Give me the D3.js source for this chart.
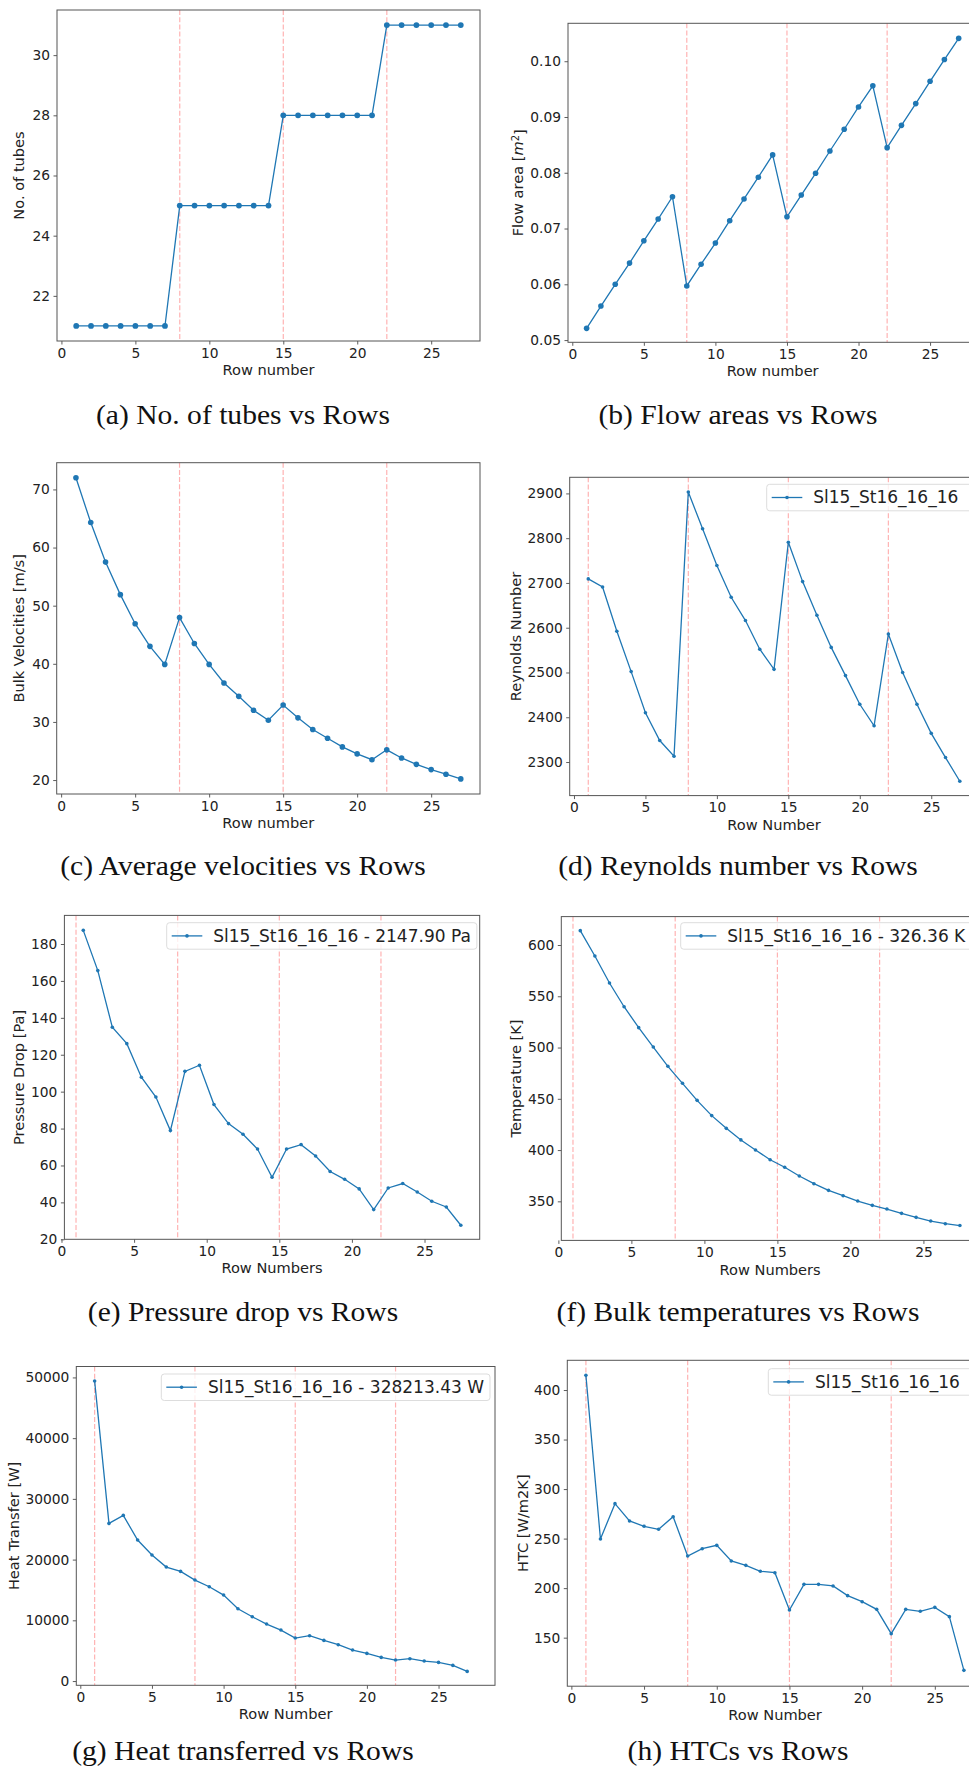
<!DOCTYPE html>
<html>
  <head>
    <meta charset="utf-8">
    <title>Row-wise results</title>
    <script src="https://d3js.org/d3.v7.min.js"></script>
    <style>
      body { margin: 0; background: #fff; }
      svg { display: block; }
    </style>
  </head>
  <body>
    <script>

      // row numbers (cell centres) and half-row positions used by the dp / temperature plots
      var rows = [1,2,3,4,5,6,7,8,9,10,11,12,13,14,15,16,17,18,19,20,21,22,23,24,25,26,27];
      var rowsMid = [1.5,2.5,3.5,4.5,5.5,6.5,7.5,8.5,9.5,10.5,11.5,12.5,13.5,14.5,15.5,16.5,17.5,18.5,19.5,20.5,21.5,22.5,23.5,24.5,25.5,26.5,27.5];

      var tubes = [21,21,21,21,21,21,21,25,25,25,25,25,25,25,28,28,28,28,28,28,28,31,31,31,31,31,31];
      var flowArea = [0.0521,0.0561,0.0600,0.0638,0.0678,0.0717,0.0757,0.0597,0.0636,0.0674,0.0714,0.0753,0.0792,0.0832,
                      0.0721,0.0760,0.0799,0.0839,0.0878,0.0918,0.0956,0.0845,0.0885,0.0924,0.0964,0.1003,0.1041];
      var velocity = [72.0,64.3,57.5,51.9,46.9,43.0,39.9,47.95,43.5,39.9,36.7,34.4,32.0,30.3,
                      32.9,30.7,28.7,27.2,25.7,24.5,23.5,25.2,23.8,22.7,21.8,21.0,20.2];
      var reynolds = [2709,2691,2592,2502,2410,2348,2313,2903,2821,2739,2668,2616,2552,2507,
                      2791,2703,2628,2556,2493,2429,2381,2586,2500,2429,2364,2310,2257];
      var pressureDrop = [187.4,165.6,134.9,126.0,107.8,97.1,78.9,111.0,114.3,93.0,82.7,76.9,68.9,53.6,
                          68.9,71.3,65.1,56.7,52.5,47.3,36.1,47.8,50.2,45.6,40.6,37.5,27.6];
      var temperature = [614.0,589.3,562.9,539.8,519.4,500.5,481.7,465.1,448.5,433.6,421.2,409.9,400.1,390.6,
                         383.2,374.7,367.2,360.7,355.5,350.3,346.1,342.5,338.3,334.4,330.8,328.2,326.4];
      var heatTransfer = [49400,25960,27280,23220,20750,18770,18060,16630,15530,14160,11910,10590,9385,8397,
                          7080,7464,6696,5982,5104,4555,3897,3458,3677,3293,3074,2580,1592];
      var htc = [414.8,249.6,285.3,267.8,262.4,259.4,272.1,232.4,239.8,243.2,227.4,223.0,217.0,215.6,
                 177.9,203.8,203.8,202.2,192.4,186.3,178.6,154.0,178.6,176.6,180.6,171.2,117.0];

      var xTicks = [0,5,10,15,20,25];
      var sectionRows = [1,8,15,22];

      var captions = ["(a) No. of tubes vs Rows", "(b) Flow areas vs Rows",
                      "(c) Average velocities vs Rows", "(d) Reynolds number vs Rows",
                      "(e) Pressure drop vs Rows", "(f) Bulk temperatures vs Rows",
                      "(g) Heat transferred vs Rows", "(h) HTCs vs Rows"];
      var xLabels = ["Row number","Row number","Row number","Row Number",
                     "Row Numbers","Row Numbers","Row Number","Row Number"];
      var yLabels = ["No. of tubes","Flow area","Bulk Velocities [m/s]","Reynolds Number",
                     "Pressure Drop [Pa]","Temperature [K]","Heat Transfer [W]","HTC [W/m2K]"];
      var legendLabels = [null,null,null,"Sl15_St16_16_16",
                          "Sl15_St16_16_16 - 2147.90 Pa","Sl15_St16_16_16 - 326.36 K",
                          "Sl15_St16_16_16 - 328213.43 W","Sl15_St16_16_16"];

      var blue = "#1f77b4";

      // layout of each axes box (pixels) and axis limits
      var panels = [
        {L:57,   R:480,   T:10,     B:341,    xd:[-0.3,28.3],  yd:[20.5,31.5],    yt:[22,24,26,28,30], fmt:"d",
         xs:rows, ys:tubes, r:2.9, vl:sectionRows.slice(1), ylx:19, cap:[243,424]},
        {L:568,  R:977.3, T:23.3,   B:342.3,  xd:[-0.3,28.3],  yd:[0.0496,0.1068], yt:[0.05,0.06,0.07,0.08,0.09,0.10], fmt:".2f",
         xs:rows, ys:flowArea, r:2.8, vl:sectionRows.slice(1), ylx:518, cap:[738,424]},
        {L:56.7, R:480,   T:462.7,  B:794,    xd:[-0.3,28.3],  yd:[17.6,74.6],    yt:[20,30,40,50,60,70], fmt:"d",
         xs:rows, ys:velocity, r:2.8, vl:sectionRows.slice(1), ylx:19, cap:[243,875]},
        {L:569.7,R:978.4, T:477.3,  B:795.6,  xd:[-0.3,28.3],  yd:[2225,2936],    yt:[2300,2400,2500,2600,2700,2800,2900], fmt:"d",
         xs:rows, ys:reynolds, r:1.8, vl:sectionRows, ylx:516, cap:[738,875], lg:[766.7,484.3]},
        {L:64.4, R:479.7, T:915.4,  B:1239.3, xd:[0.2,28.8],   yd:[20,195.5],     yt:[20,40,60,80,100,120,140,160,180], fmt:"d",
         xs:rowsMid, ys:pressureDrop, r:1.8, vl:sectionRows, ylx:19, cap:[243,1321], lg:[166.7,922.7]},
        {L:561.3,R:978.9, T:916.6,  B:1240.4, xd:[0.2,28.8],   yd:[311.9,627.7],  yt:[350,400,450,500,550,600], fmt:"d",
         xs:rowsMid, ys:temperature, r:1.8, vl:sectionRows, ylx:516, cap:[738,1321], lg:[680.7,922.7]},
        {L:76.3, R:495,   T:1366.5, B:1685.3, xd:[-0.28,28.94],yd:[-700,51800],   yt:[0,10000,20000,30000,40000,50000], fmt:"d",
         xs:rows, ys:heatTransfer, r:1.8, vl:sectionRows, ylx:13.5, cap:[243,1760], lg:[161.3,1374]},
        {L:567.3,R:982.8, T:1360.3, B:1686.2, xd:[-0.28,28.3], yd:[101,430],      yt:[150,200,250,300,350,400], fmt:"d",
         xs:rows, ys:htc, r:1.8, vl:sectionRows, ylx:522.7, cap:[738,1760], lg:[768.3,1368.7]}
      ];

      var svg = d3.select("body").append("svg")
                  .attr("width", 969)
                  .attr("height", 1774)
                  .style("font-family", "'DejaVu Sans', sans-serif");

      panels.forEach(function(p, i) {
        var x = d3.scaleLinear().domain(p.xd).range([p.L, p.R]);
        var y = d3.scaleLinear().domain(p.yd).range([p.B, p.T]);
        var g = svg.append("g");

        g.append("clipPath").attr("id", "clip" + i)
          .append("rect").attr("x", p.L).attr("y", p.T).attr("width", p.R - p.L).attr("height", p.B - p.T);

        // section boundaries
        g.selectAll("line.sec").data(p.vl).enter().append("line")
          .attr("class", "sec")
          .attr("x1", function(d){ return x(d); }).attr("x2", function(d){ return x(d); })
          .attr("y1", p.T).attr("y2", p.B)
          .attr("stroke", "#ff0000").attr("stroke-opacity", 0.3)
          .attr("stroke-width", 1.2).attr("stroke-dasharray", "5,2.2");

        var pts = p.xs.map(function(d, k){ return [d, p.ys[k]]; });
        var line = d3.line().x(function(d){ return x(d[0]); }).y(function(d){ return y(d[1]); });
        var plot = g.append("g").attr("clip-path", "url(#clip" + i + ")");
        plot.append("path").datum(pts).attr("d", line)
          .attr("fill", "none").attr("stroke", blue).attr("stroke-width", 1.3);
        plot.selectAll("circle").data(pts).enter().append("circle")
          .attr("cx", function(d){ return x(d[0]); })
          .attr("cy", function(d){ return y(d[1]); })
          .attr("r", p.r).attr("fill", blue);

        // axes
        var xa = g.append("g").attr("transform", "translate(0," + p.B + ")")
          .call(d3.axisBottom(x).tickValues(xTicks).tickSize(3.5).tickPadding(3.5).tickFormat(d3.format("d")));
        var ya = g.append("g").attr("transform", "translate(" + p.L + ",0)")
          .call(d3.axisLeft(y).tickValues(p.yt).tickSize(3.5).tickPadding(3.5).tickFormat(d3.format(p.fmt)));
        [xa, ya].forEach(function(a) {
          a.select(".domain").remove();
          a.selectAll("line").attr("stroke", "#333").attr("stroke-width", 0.8);
          a.selectAll("text").attr("fill", "#222").style("font-size", "13.8px")
            .style("font-family", "'DejaVu Sans', sans-serif");
        });

        g.append("rect").attr("x", p.L).attr("y", p.T)
          .attr("width", p.R - p.L).attr("height", p.B - p.T)
          .attr("fill", "none").attr("stroke", "#555").attr("stroke-width", 1);

        g.append("text").attr("x", (p.L + p.R) / 2).attr("y", p.B + 29).attr("dy", "0.35em")
          .attr("text-anchor", "middle").attr("fill", "#222").style("font-size", "14.6px")
          .text(xLabels[i]);

        var yl = g.append("text")
          .attr("transform", "translate(" + p.ylx + "," + (p.T + p.B) / 2 + ") rotate(-90)")
          .attr("dy", "0.35em").attr("text-anchor", "middle").attr("fill", "#222")
          .style("font-size", "14.6px").text(yLabels[i]);
        if (i === 1) {
          yl.append("tspan").text(" [");
          yl.append("tspan").style("font-style", "italic").text("m");
          yl.append("tspan").attr("dy", "-0.45em").style("font-size", "10px").text("2");
          yl.append("tspan").attr("dy", "0.45em").text("]");
        }

        // legend
        if (p.lg) {
          var lg = g.append("g").attr("transform", "translate(" + p.lg[0] + "," + p.lg[1] + ")");
          var box = lg.append("rect").attr("height", 26.5).attr("rx", 3)
            .attr("fill", "#fff").attr("fill-opacity", 0.8)
            .attr("stroke", "#ddd").attr("stroke-width", 1);
          lg.append("line").attr("x1", 5).attr("x2", 35.6).attr("y1", 13.2).attr("y2", 13.2)
            .attr("stroke", blue).attr("stroke-width", 1.3);
          lg.append("circle").attr("cx", 20.3).attr("cy", 13.2).attr("r", 1.8).attr("fill", blue);
          var t = lg.append("text").attr("x", 46.6).attr("y", 13.2).attr("dy", "0.35em")
            .attr("fill", "#222").style("font-size", "17px").text(legendLabels[i]);
          var w = 46.6 + t.node().getComputedTextLength() + 6;
          // legends in the right column run past the page edge
          if (p.lg[0] > 484) w = Math.max(w, 975 - p.lg[0]);
          box.attr("width", w);
        }

        // subfigure caption
        var c = svg.append("text").attr("x", p.cap[0]).attr("y", p.cap[1])
          .attr("text-anchor", "middle").attr("fill", "#111")
          .style("font-family", "'Liberation Serif', 'Times New Roman', serif")
          .style("font-size", "27px").text(captions[i]);
        c.attr("textLength", c.node().getComputedTextLength() * 1.095).attr("lengthAdjust", "spacingAndGlyphs");
      });

    </script>
  </body>
</html>
